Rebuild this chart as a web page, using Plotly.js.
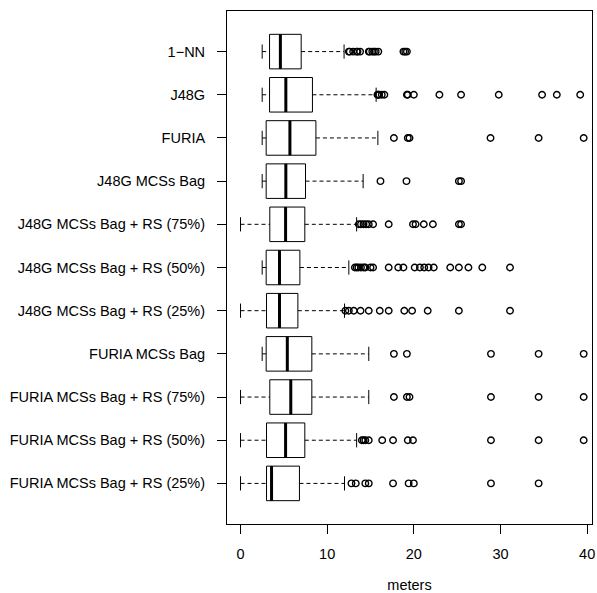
<!DOCTYPE html>
<html>
<head>
<meta charset="utf-8">
<script src="https://cdn.plot.ly/plotly-3.0.1.min.js"></script>
<style>html,body{margin:0;padding:0;background:#fff;}#chart{width:597px;height:593px;}</style>
</head>
<body>
<div id="chart"></div>
<script>
// Categories, top to bottom
const categories = ["1\u2212NN","J48G","FURIA","J48G MCSs Bag","J48G MCSs Bag + RS (75%)","J48G MCSs Bag + RS (50%)","J48G MCSs Bag + RS (25%)","FURIA MCSs Bag","FURIA MCSs Bag + RS (75%)","FURIA MCSs Bag + RS (50%)","FURIA MCSs Bag + RS (25%)"];
const lowerWhisker = [2.5, 2.5, 2.5, 2.5, 0, 2.5, 0, 2.5, 0, 0, 0];
const q1 =           [3.35, 3.35, 2.96, 2.96, 3.38, 2.96, 3.0, 2.96, 3.38, 3.0, 3.0];
const median =       [4.6, 5.23, 5.7, 5.23, 5.2, 4.5, 4.5, 5.4, 5.8, 5.2, 3.58];
const q3 =           [7.0, 8.3, 8.7, 7.5, 7.42, 6.85, 6.62, 8.23, 8.23, 7.42, 6.8];
const upperWhisker = [11.95, 15.65, 15.85, 14.15, 13.4, 12.5, 12.0, 14.8, 14.8, 13.4, 12.0];
const outliers = [
  [12.5,12.6,13.0,13.4,13.5,13.8,14.8,14.9,15.2,15.4,15.6,15.9,18.8,19.0,19.2],
  [15.8,15.9,16.0,16.3,16.6,19.2,19.3,20.0,22.95,25.45,29.8,34.8,36.5,39.2],
  [17.7,19.3,19.5,28.85,34.4,39.6],
  [16.15,19.15,25.2,25.45],
  [13.65,13.9,14.2,14.5,14.8,15.3,17.1,19.9,20.2,21.15,22.2,25.2,25.45],
  [13.2,13.4,13.6,13.9,14.2,14.4,15.0,15.3,17.1,18.2,18.8,20.1,20.7,21.2,21.7,22.3,24.2,25.2,26.3,27.9,31.1],
  [12.1,12.5,13.07,13.85,14.8,16.07,17.1,18.9,19.8,21.6,25.2,31.1],
  [17.7,19.2,28.9,34.4,39.6],
  [17.7,19.2,19.5,28.9,34.4,39.6],
  [14.0,14.2,14.4,14.8,16.35,17.6,19.3,19.9,28.9,34.4,39.6],
  [12.8,13.3,14.4,14.8,17.6,19.4,20.0,28.9,34.4]
];
const xTicks = [0, 10, 20, 30, 40];

const n = categories.length;
const pos = categories.map((c, i) => n - i);
const half = 0.4, capHalf = 0.165;

// whiskers (dashed)
const wx = [], wy = [];
const cx = [], cy = [];
const mx = [], my = [];
const ox = [], oy = [];
for (let i = 0; i < n; i++) {
  const p = pos[i];
  wx.push(lowerWhisker[i], q1[i], null, q3[i], upperWhisker[i], null);
  wy.push(p, p, null, p, p, null);
  cx.push(lowerWhisker[i], lowerWhisker[i], null, upperWhisker[i], upperWhisker[i], null);
  cy.push(p - capHalf, p + capHalf, null, p - capHalf, p + capHalf, null);
  mx.push(median[i], median[i], null);
  my.push(p - half, p + half, null);
  outliers[i].forEach(v => { ox.push(v); oy.push(p); });
}

const traces = [
  {type:'scatter', mode:'lines', x:wx, y:wy, line:{color:'#000', width:1, dash:'4px,3px'}, hoverinfo:'skip', showlegend:false},
  {type:'scatter', mode:'lines', x:cx, y:cy, line:{color:'#000', width:1}, hoverinfo:'skip', showlegend:false},
  {type:'box', orientation:'h', y:pos, q1:q1, median:median, q3:q3, lowerfence:q1, upperfence:q3,
   width:0.8, whiskerwidth:0, fillcolor:'#ffffff', line:{color:'#000', width:1}, showlegend:false},
  {type:'scatter', mode:'lines', x:mx, y:my, line:{color:'#000', width:3}, hoverinfo:'skip', showlegend:false},
  {type:'scatter', mode:'markers', x:ox, y:oy, marker:{symbol:'circle-open', size:6.5, color:'#000', line:{color:'#000', width:1.4}}, showlegend:false}
];

const layout = {
  width:597, height:593,
  margin:{l:227, r:5, t:11, b:69},
  paper_bgcolor:'#fff', plot_bgcolor:'#fff',
  font:{family:'"Liberation Sans", Arial, sans-serif', size:14.5, color:'#000'},
  showlegend:false,
  xaxis:{range:[-1.56, 40.56], tickvals:xTicks, ticktext:xTicks.map(String), ticks:'outside', ticklen:9, tickcolor:'#000', tickwidth:1,
         ticklabelstandoff:8, showgrid:false, zeroline:false, showline:true, mirror:true, linecolor:'#000', linewidth:1,
         title:{text:'meters', standoff:22, font:{size:14.5}}},
  yaxis:{range:[0.06, 11.94], tickvals:pos, ticktext:categories, ticks:'outside', ticklen:9, tickcolor:'#000', tickwidth:1,
         ticklabelstandoff:9, showgrid:false, zeroline:false, showline:true, mirror:true, linecolor:'#000', linewidth:1}
};

Plotly.newPlot('chart', traces, layout, {displayModeBar:false, staticPlot:true});
</script>
</body>
</html>
